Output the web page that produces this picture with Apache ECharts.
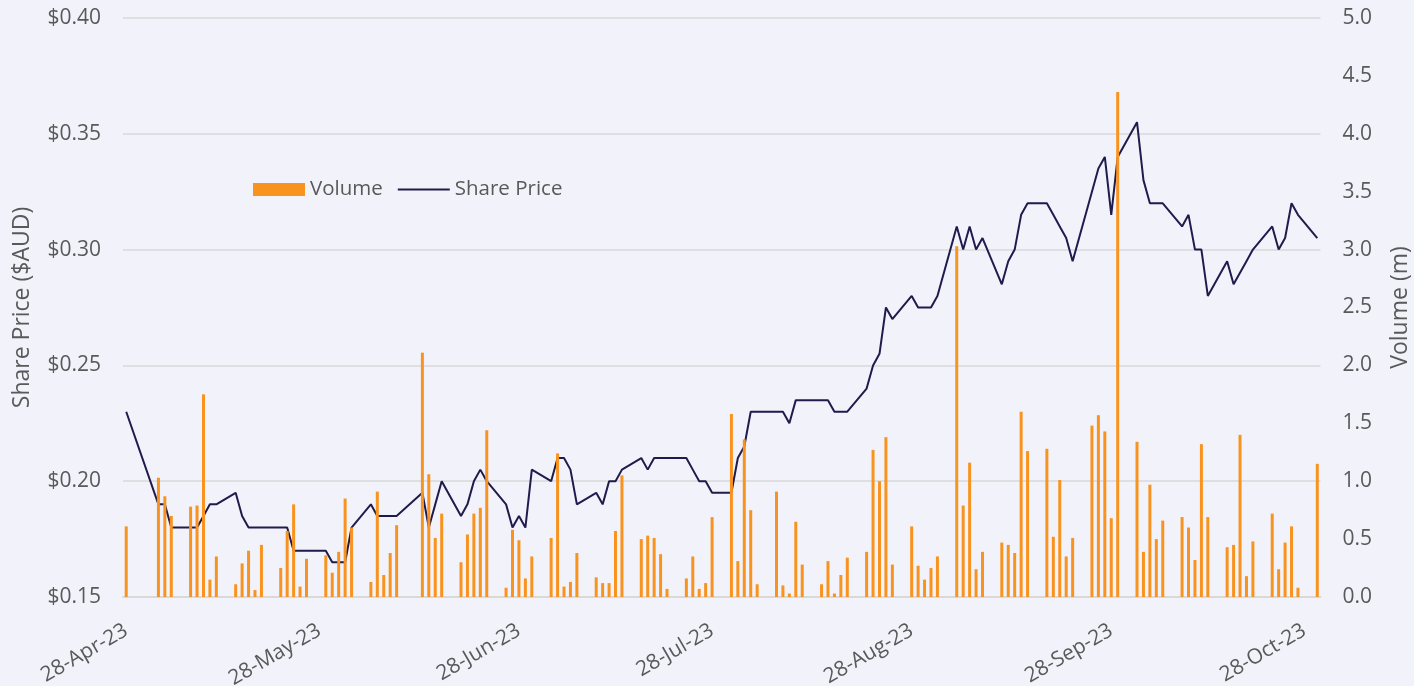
<!DOCTYPE html>
<html>
<head>
<meta charset="utf-8">
<script src="https://cdn.jsdelivr.net/npm/echarts@6/dist/echarts.min.js"></script>
<style>
  html, body { margin: 0; padding: 0; background: #f2f3fa; }
  #chart { width: 1414px; height: 686px; }
</style>
</head>
<body>
<div id="chart"></div>
<script>
// trading days (dd-Mon-yy), closing share price ($AUD) and volume (millions)
const tradeDates = [
  '28-Apr-23',
  '03-May-23', '04-May-23', '05-May-23', '08-May-23', '09-May-23', '10-May-23', '11-May-23', '12-May-23',
  '15-May-23', '16-May-23', '17-May-23', '18-May-23', '19-May-23', '22-May-23', '23-May-23', '24-May-23',
  '25-May-23', '26-May-23', '29-May-23', '30-May-23', '31-May-23',
  '01-Jun-23', '02-Jun-23', '05-Jun-23', '06-Jun-23', '07-Jun-23', '08-Jun-23', '09-Jun-23', '13-Jun-23',
  '14-Jun-23', '15-Jun-23', '16-Jun-23', '19-Jun-23', '20-Jun-23', '21-Jun-23', '22-Jun-23', '23-Jun-23',
  '26-Jun-23', '27-Jun-23', '28-Jun-23', '29-Jun-23', '30-Jun-23',
  '03-Jul-23', '04-Jul-23', '05-Jul-23', '06-Jul-23', '07-Jul-23', '10-Jul-23', '11-Jul-23', '12-Jul-23',
  '13-Jul-23', '14-Jul-23', '17-Jul-23', '18-Jul-23', '19-Jul-23', '20-Jul-23', '21-Jul-23', '24-Jul-23',
  '25-Jul-23', '26-Jul-23', '27-Jul-23', '28-Jul-23', '31-Jul-23',
  '01-Aug-23', '02-Aug-23', '03-Aug-23', '04-Aug-23', '07-Aug-23', '08-Aug-23', '09-Aug-23', '10-Aug-23',
  '11-Aug-23', '14-Aug-23', '15-Aug-23', '16-Aug-23', '17-Aug-23', '18-Aug-23', '21-Aug-23', '22-Aug-23',
  '23-Aug-23', '24-Aug-23', '25-Aug-23', '28-Aug-23', '29-Aug-23', '30-Aug-23', '31-Aug-23',
  '01-Sep-23', '04-Sep-23', '05-Sep-23', '06-Sep-23', '07-Sep-23', '08-Sep-23', '11-Sep-23', '12-Sep-23',
  '13-Sep-23', '14-Sep-23', '15-Sep-23', '18-Sep-23', '19-Sep-23', '20-Sep-23', '21-Sep-23', '22-Sep-23',
  '25-Sep-23', '26-Sep-23', '27-Sep-23', '28-Sep-23', '29-Sep-23',
  '02-Oct-23', '03-Oct-23', '04-Oct-23', '05-Oct-23', '06-Oct-23', '09-Oct-23', '10-Oct-23', '11-Oct-23',
  '12-Oct-23', '13-Oct-23', '16-Oct-23', '17-Oct-23', '18-Oct-23', '19-Oct-23', '20-Oct-23', '23-Oct-23',
  '24-Oct-23', '25-Oct-23', '26-Oct-23', '27-Oct-23', '30-Oct-23'
];

const sharePrice = [
  0.23,
  0.19, 0.19, 0.18, 0.18, 0.18, 0.185, 0.19, 0.19,
  0.195, 0.185, 0.18, 0.18, 0.18, 0.18, 0.18, 0.17,
  0.17, 0.17, 0.17, 0.165, 0.165,
  0.165, 0.18, 0.19, 0.185, 0.185, 0.185, 0.185, 0.195,
  0.18, 0.19, 0.20, 0.185, 0.19, 0.20, 0.205, 0.20,
  0.19, 0.18, 0.185, 0.18, 0.205,
  0.20, 0.21, 0.21, 0.205, 0.19, 0.195, 0.19, 0.20,
  0.20, 0.205, 0.21, 0.205, 0.21, 0.21, 0.21, 0.21,
  0.205, 0.20, 0.20, 0.195, 0.195,
  0.21, 0.215, 0.23, 0.23, 0.23, 0.23, 0.225, 0.235,
  0.235, 0.235, 0.235, 0.23, 0.23, 0.23, 0.24, 0.25,
  0.255, 0.275, 0.27, 0.28, 0.275, 0.275, 0.275,
  0.28, 0.31, 0.30, 0.31, 0.30, 0.305, 0.285, 0.295,
  0.30, 0.315, 0.32, 0.32, 0.315, 0.31, 0.305, 0.295,
  0.325, 0.335, 0.34, 0.315, 0.34,
  0.355, 0.33, 0.32, 0.32, 0.32, 0.31, 0.315, 0.30,
  0.30, 0.28, 0.295, 0.285, 0.29, 0.295, 0.30, 0.31,
  0.30, 0.305, 0.32, 0.315, 0.305
];

const volume = [
  0.61,
  1.03, 0.87, 0.70, 0.78, 0.79, 1.75, 0.15, 0.35,
  0.11, 0.29, 0.40, 0.06, 0.45, 0.25, 0.57, 0.80,
  0.09, 0.33, 0.36, 0.21, 0.39,
  0.85, 0.60, 0.13, 0.91, 0.19, 0.38, 0.62, 2.11,
  1.06, 0.51, 0.72, 0.30, 0.54, 0.72, 0.77, 1.44,
  0.08, 0.58, 0.49, 0.16, 0.35,
  0.51, 1.24, 0.09, 0.13, 0.38, 0.17, 0.12, 0.12,
  0.57, 1.05, 0.50, 0.53, 0.51, 0.37, 0.07, 0.16,
  0.35, 0.07, 0.12, 0.69, 1.58,
  0.31, 1.36, 0.75, 0.11, 0.91, 0.10, 0.03, 0.65,
  0.28, 0.11, 0.31, 0.03, 0.19, 0.34, 0.39, 1.27,
  1.00, 1.38, 0.28, 0.61, 0.27, 0.15, 0.25,
  0.35, 3.03, 0.79, 1.16, 0.24, 0.39, 0.47, 0.45,
  0.38, 1.60, 1.26, 1.28, 0.52, 1.01, 0.35, 0.51,
  1.48, 1.57, 1.43, 0.68, 4.36,
  1.34, 0.39, 0.97, 0.50, 0.66, 0.69, 0.60, 0.32,
  1.32, 0.69, 0.43, 0.45, 1.40, 0.18, 0.48, 0.72,
  0.24, 0.47, 0.61, 0.08, 1.15
];

// axis: every calendar day from 28-Apr-23 to 30-Oct-23
const months = ['Jan', 'Feb', 'Mar', 'Apr', 'May', 'Jun', 'Jul', 'Aug', 'Sep', 'Oct', 'Nov', 'Dec'];
const dayCount = 186;
const days = [];
for (let i = 0; i < dayCount; i++) {
  const d = new Date(2023, 3, 28 + i);
  days.push(String(d.getDate()).padStart(2, '0') + '-' + months[d.getMonth()] + '-23');
}

const priceData = days.map(() => null);
const volumeData = days.map(() => null);
tradeDates.forEach((t, i) => {
  const idx = days.indexOf(t);
  priceData[idx] = sharePrice[i];
  volumeData[idx] = volume[i];
});

const textColor = '#595959';
const gridColor = '#d9d9d9';
const font = 'Open Sans';
const isTickDay = (i, v) => v.indexOf('28-') === 0;

const chart = echarts.init(document.getElementById('chart'));
chart.setOption({
  backgroundColor: '#f2f3fa',
  animation: false,
  textStyle: { fontFamily: font },
  grid: { left: 123, right: 93.5, top: 18, bottom: 89, outerBoundsMode: 'none', containLabel: false },
  legend: {
    data: [
      { name: 'Volume', icon: 'rect' },
      { name: 'Share Price', itemStyle: { opacity: 0 } }
    ],
    left: 253,
    top: 179,
    padding: 0,
    itemWidth: 52,
    itemHeight: 13,
    itemGap: 14,
    textStyle: { fontSize: 20.5, color: textColor, fontFamily: font }
  },
  xAxis: {
    type: 'category',
    data: days,
    boundaryGap: true,
    axisLine: { lineStyle: { color: gridColor, width: 2 } },
    axisTick: { interval: isTickDay, length: 7, lineStyle: { color: gridColor, width: 2 } },
    axisLabel: {
      interval: isTickDay,
      rotate: 30,
      margin: 32,
      fontSize: 21,
      color: textColor,
      fontFamily: font
    },
    splitLine: { show: false }
  },
  yAxis: [
    {
      type: 'value',
      min: 0.15,
      max: 0.40,
      interval: 0.05,
      name: 'Share Price ($AUD)',
      nameLocation: 'middle',
      nameGap: 89,
      nameTextStyle: { fontSize: 23, color: textColor, fontFamily: font },
      axisLine: { show: false },
      axisTick: { show: false },
      axisLabel: {
        margin: 22,
        fontSize: 21,
        color: textColor,
        fontFamily: font,
        formatter: v => '$' + v.toFixed(2)
      },
      splitLine: { lineStyle: { color: gridColor, width: 1.5 } }
    },
    {
      type: 'value',
      min: 0,
      max: 5,
      interval: 0.5,
      name: 'Volume (m)',
      nameLocation: 'middle',
      nameGap: 68,
      nameTextStyle: { fontSize: 23, color: textColor, fontFamily: font },
      axisLine: { show: false },
      axisTick: { show: false },
      axisLabel: {
        margin: 22,
        fontSize: 21,
        color: textColor,
        fontFamily: font,
        formatter: v => v.toFixed(1)
      },
      splitLine: { show: false }
    }
  ],
  series: [
    {
      name: 'Volume',
      type: 'bar',
      yAxisIndex: 1,
      barWidth: 3,
      z: 3,
      itemStyle: { color: '#f7931e' },
      data: volumeData
    },
    {
      name: 'Share Price',
      type: 'line',
      yAxisIndex: 0,
      z: 2,
      symbol: 'none',
      connectNulls: true,
      lineStyle: { color: '#1f1b4d', width: 2 },
      itemStyle: { color: '#1f1b4d' },
      data: priceData
    }
  ]
});
</script>
</body>
</html>
